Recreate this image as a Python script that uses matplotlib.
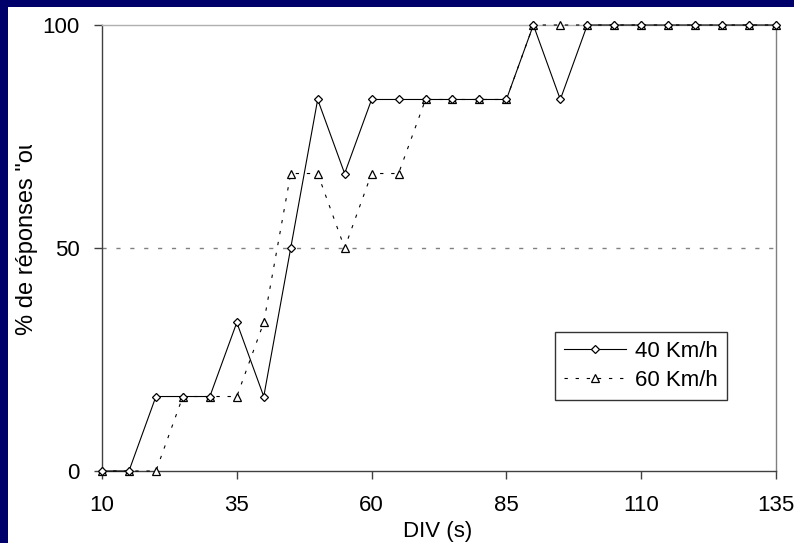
import matplotlib
matplotlib.use("Agg")
import matplotlib.pyplot as plt
from matplotlib.patches import Rectangle
from matplotlib.transforms import Bbox

plt.rcParams['font.family'] = ['Liberation Sans', 'DejaVu Sans']

div_s = [10, 15, 20, 25, 30, 35, 40, 45, 50, 55, 60, 65, 70, 75, 80, 85,
         90, 95, 100, 105, 110, 115, 120, 125, 130, 135]
pct_40 = [0, 0, 16.7, 16.7, 16.7, 33.3, 16.7, 50, 83.3, 66.7, 83.3, 83.3, 83.3,
          83.3, 83.3, 83.3, 100, 83.3, 100, 100, 100, 100, 100, 100, 100, 100]
pct_60 = [0, 0, 0, 16.7, 16.7, 16.7, 33.3, 66.7, 66.7, 50, 66.7, 66.7, 83.3,
          83.3, 83.3, 83.3, 100, 100, 100, 100, 100, 100, 100, 100, 100, 100]
x_ticks = [10, 35, 60, 85, 110, 135]
y_ticks = [0, 50, 100]
labels = ["40 Km/h", "60 Km/h"]
threshold = 50

W, H = 794, 543
fig = plt.figure(figsize=(W / 100, H / 100), dpi=100)
fig.patch.set_facecolor('#00006B')
fig.patches.append(Rectangle((8 / W, 0), 1 - 8 / W, 1 - 7 / H,
                             transform=fig.transFigure, facecolor='white',
                             edgecolor='none', zorder=-5))

ax = fig.add_axes([102 / W, 1 - 471 / H, (776 - 102) / W, (471 - 25) / H])
ax.set_facecolor('white')
ax.set_xlim(10, 135)
ax.set_ylim(0, 100)

ax.axhline(threshold, color='#808080', lw=1.0, dashes=(3, 7), zorder=1)

l1, = ax.plot(div_s, pct_40, color='black', lw=0.8, marker='D', ms=3.6,
              mfc='white', mec='black', mew=0.9, clip_on=False, zorder=4)
l2, = ax.plot(div_s, pct_60, color='black', lw=0.8, dashes=(3, 7), marker='^',
              ms=5.5, mfc='white', mec='black', mew=0.9, clip_on=False, zorder=3)

for s in ['left', 'bottom']:
    ax.spines[s].set_color('#404040')
    ax.spines[s].set_linewidth(1.0)
ax.spines['top'].set_color('#b0b0b0')
ax.spines['right'].set_color('#808080')
ax.spines['top'].set_linewidth(1.0)
ax.spines['right'].set_linewidth(1.0)

ax.set_xticks(x_ticks)
ax.set_yticks(y_ticks)
ax.tick_params(axis='x', direction='out', length=6, width=1, color='#404040',
               labelsize=16, pad=11)
ax.tick_params(axis='y', direction='out', length=6, width=1, color='#404040',
               labelsize=16, pad=10)

fig.text(438 / W, 1 - 537 / H, "DIV (s)", ha='center', va='baseline',
         fontsize=16)

t = fig.text(27 / W, 1 - 335 / H, '% de réponses "oui"', rotation=90,
             ha='center', va='bottom', fontsize=17)
t.set_clip_on(True)
t.set_clip_box(Bbox.from_extents(0, 0, W, H - 145))

leg = ax.legend([l1, l2], labels, loc='upper left',
                bbox_to_anchor=(555 / W, 1 - 332 / H),
                bbox_transform=fig.transFigure, borderaxespad=0,
                fontsize=16, frameon=True, fancybox=False, shadow=False,
                handlelength=2.8, handletextpad=0.4, labelspacing=0.35,
                borderpad=0.4)
leg.get_frame().set_edgecolor('black')
leg.get_frame().set_linewidth(1.0)

fig.savefig('out.png', dpi=100, facecolor=fig.get_facecolor())
